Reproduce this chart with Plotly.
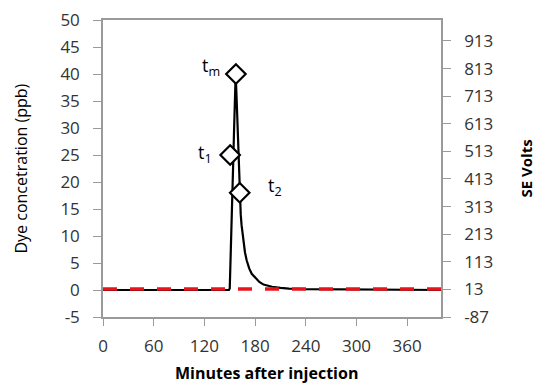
import plotly.graph_objects as go

# Dye concentration breakthrough curve (minutes after injection, ppb)
minutes = [0, 20, 40, 60, 80, 100, 120, 140, 149, 150, 151, 152, 153, 154, 155, 156, 157,
           158, 159, 160, 161, 162, 163, 164, 165, 166, 168, 170, 173, 176, 180, 185, 190,
           200, 210, 220, 240, 270, 300, 340, 400]
dye_ppb = [0.0, 0.0, -0.1, 0.0, 0.0, -0.1, 0.0, 0.0, 0.0, 0.3, 5.0, 11.0, 17.0, 23.0, 29.0, 35.0, 40.0,
           36.0, 31.0, 26.0, 21.5, 17.5, 14.0, 12.0, 10.5, 9.0, 7.0, 5.5, 4.0, 3.0, 2.3, 1.5, 1.0,
           0.6, 0.4, 0.25, 0.15, 0.1, 0.05, 0.02, 0.0]

# Selected times on the curve: t1, tm, t2
marker_minutes = [150.5, 157.3, 161.8]
marker_ppb = [25, 40, 18]
marker_labels = ["t<sub>1</sub>", "t<sub>m</sub>", "t<sub>2</sub>"]

# SE voltage record (secondary axis)
se_minutes = [0, 400]
se_volts = [14, 14]

x_ticks = [0, 60, 120, 180, 240, 300, 360]
left_ticks = list(range(-5, 55, 5))
right_ticks = [-87, 13, 113, 213, 313, 413, 513, 613, 713, 813, 913]

FONT = "Open Sans"
AXIS_GRAY = "#9a9a9a"
TEXT_GRAY = "#333333"

fig = go.Figure()

fig.add_trace(go.Scatter(
    x=minutes, y=dye_ppb, mode="lines",
    line=dict(color="black", width=2.2), showlegend=False,
))
fig.add_trace(go.Scatter(
    x=se_minutes, y=se_volts, mode="lines", yaxis="y2",
    line=dict(color="#e8141b", width=3.5, dash="14px,13px"), showlegend=False,
))
fig.add_trace(go.Scatter(
    x=marker_minutes, y=marker_ppb, mode="markers",
    marker=dict(symbol="diamond", size=15, color="white",
                line=dict(color="black", width=2.2)),
    showlegend=False,
))

# t labels placed beside their markers
offsets = [(-16, 2, "right"), (-14, 8, "right"), (26, 6, "left")]
for xv, yv, lab, (dx, dy, anc) in zip(marker_minutes, marker_ppb, marker_labels, offsets):
    fig.add_annotation(x=xv, y=yv, text=lab, showarrow=False, xanchor=anc,
                       xshift=dx, yshift=dy,
                       font=dict(family=FONT, size=18, color="black"))

# Axis titles, positioned relative to the plot area
fig.add_annotation(xref="paper", yref="paper", x=0.485, y=0, yshift=-56,
                   xanchor="center", yanchor="middle", showarrow=False,
                   text="<b>Minutes after injection</b>",
                   font=dict(family=FONT, size=16, color="black"))
fig.add_annotation(xref="paper", yref="paper", x=0, y=0.5, xshift=-83,
                   xanchor="center", yanchor="middle", showarrow=False, textangle=-90,
                   text="Dye concetration (ppb)",
                   font=dict(family=FONT, size=16, color="black"))
fig.add_annotation(xref="paper", yref="paper", x=1, y=0.5, xshift=84,
                   xanchor="center", yanchor="middle", showarrow=False, textangle=-90,
                   text="<b>SE Volts</b>",
                   font=dict(family=FONT, size=15, color="black"))

fig.update_layout(
    width=534, height=385,
    margin=dict(l=103, r=93, t=20, b=68, autoexpand=False),
    paper_bgcolor="white", plot_bgcolor="white",
    font=dict(family=FONT, color=TEXT_GRAY),
    xaxis=dict(
        range=[0, 400], tickvals=x_ticks, showgrid=False, zeroline=False,
        showline=True, linecolor=AXIS_GRAY, linewidth=1.5, mirror=True,
        ticks="outside", ticklen=7, tickcolor=AXIS_GRAY,
        ticklabelstandoff=6, automargin=False,
        tickfont=dict(size=17, color=TEXT_GRAY),
    ),
    yaxis=dict(
        range=[-5, 50], tickvals=left_ticks,
        ticktext=[str(v) for v in left_ticks],
        showgrid=False, zeroline=False,
        showline=True, linecolor=AXIS_GRAY, linewidth=1.5,
        ticks="outside", ticklen=8, tickcolor=AXIS_GRAY,
        ticklabelstandoff=10, automargin=False,
        tickfont=dict(size=17, color=TEXT_GRAY),
    ),
    yaxis2=dict(
        overlaying="y", side="right", range=[-87, 989], tickvals=right_ticks,
        ticktext=[str(v) for v in right_ticks],
        showgrid=False, zeroline=False,
        showline=True, linecolor=AXIS_GRAY, linewidth=1.5,
        ticks="outside", ticklen=8, tickcolor=AXIS_GRAY,
        ticklabelstandoff=10, automargin=False,
        tickfont=dict(size=17, color=TEXT_GRAY),
    ),
)

fig.write_html("out.html")
